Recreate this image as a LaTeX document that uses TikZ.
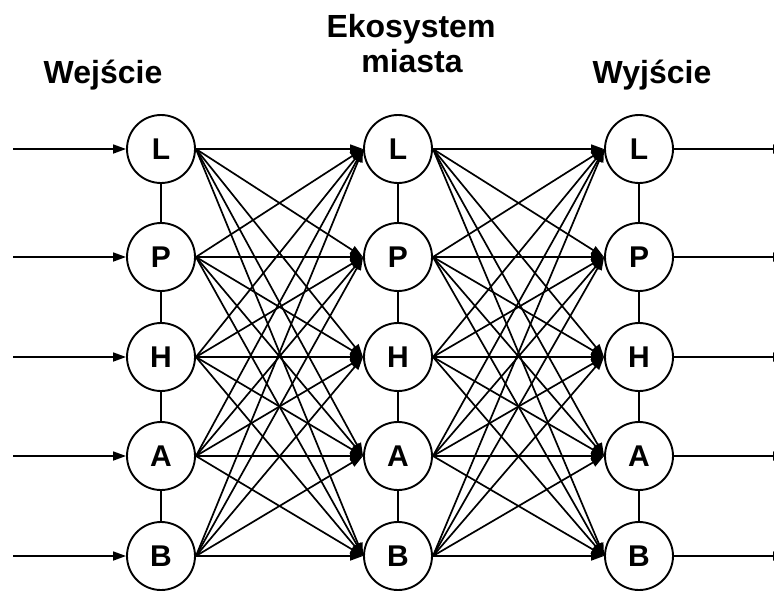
\documentclass[tikz,border=0pt]{standalone}
\usepackage{fontspec}
\setmainfont{Liberation Sans}
\usetikzlibrary{arrows.meta}
\begin{document}
\begin{tikzpicture}[x=1pt,y=-1pt,
  unit/.style={circle,draw,line width=1.9pt,minimum size=68pt,inner sep=0pt,font=\fontsize{30}{32}\selectfont\bfseries},
  title/.style={anchor=base,align=center,font=\fontsize{32}{36}\selectfont\bfseries},
  link/.style={line width=1.7pt},
  arr/.style={line width=1.7pt,-{Triangle[length=13pt,width=9pt]}}]
\useasboundingbox (0,0) rectangle (774,592);
\node[title] (tin) at (103,83) {Wejście};
\node[title] (teco) at (411,37) {Ekosystem};
\node[title] (teco2) at (412,72) {miasta};
\node[title] (tout) at (652,83) {Wyjście};
\foreach \n/\y in {L/149,P/257,H/357,A/456,B/556}{
  \node[unit] (a\n) at (161,\y) {\n};
  \node[unit] (b\n) at (398,\y) {\n};
  \node[unit] (c\n) at (639,\y) {\n};
  \coordinate (in\n) at (13,\y);
  \coordinate (out\n) at (786,\y);
  \draw[arr] (in\n) -- (a\n.west);
  \draw[arr] (c\n.east) -- (out\n);
}
\foreach \c in {a,b,c}{
  \draw[link] (\c L) -- (\c P) (\c P) -- (\c H) (\c H) -- (\c A) (\c A) -- (\c B);
}
\foreach \s in {L,P,H,A,B}{
  \foreach \t in {L,P,H,A,B}{
    \draw[arr] (a\s.east) -- (b\t.west);
    \draw[arr] (b\s.east) -- (c\t.west);
  }
}
\end{tikzpicture}
\end{document}
